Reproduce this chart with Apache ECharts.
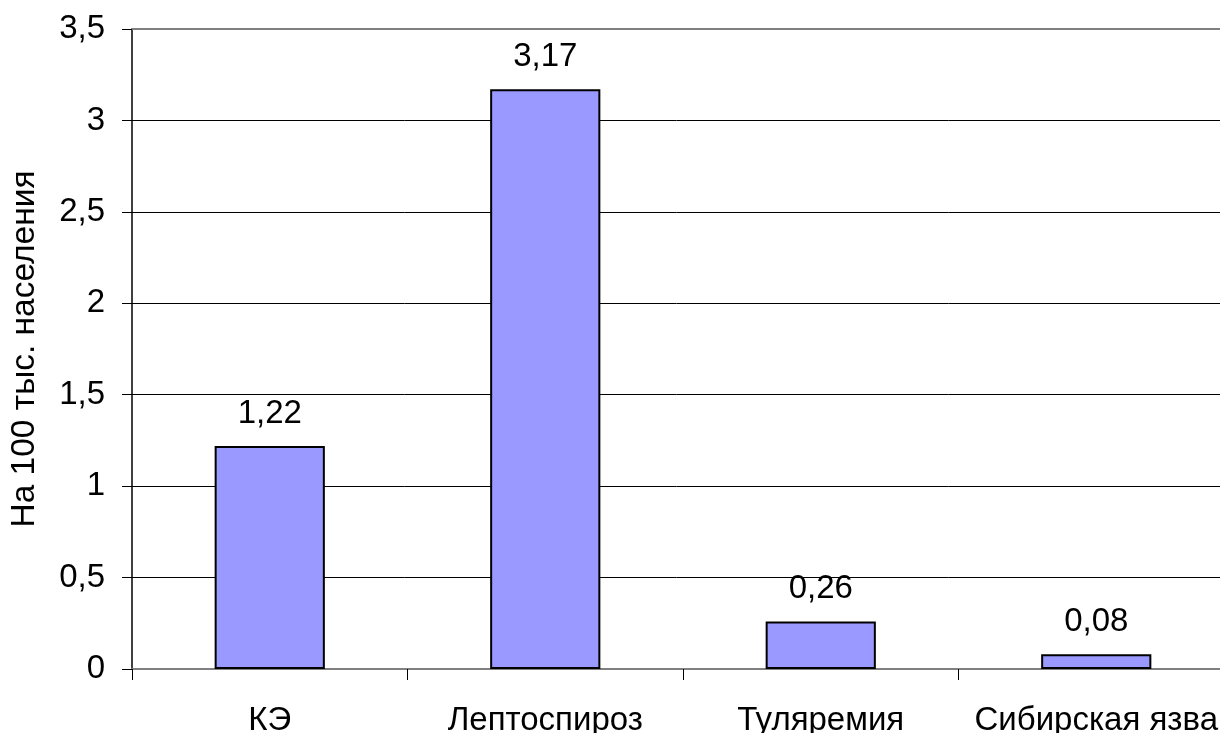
<!DOCTYPE html>
<html>
<head>
<meta charset="utf-8">
<script src="https://cdn.jsdelivr.net/npm/echarts@6/dist/echarts.min.js"></script>
<style>
  html, body { margin: 0; padding: 0; background: #fff; overflow: hidden; }
  #chart { width: 1220px; height: 733px; }
</style>
</head>
<body>
<div id="chart"></div>
<script>
// Заболеваемость природно-очаговыми инфекциями, на 100 тыс. населения
const categories = ['КЭ', 'Лептоспироз', 'Туляремия', 'Сибирская язва'];
const values = [1.22, 3.17, 0.26, 0.08];
const yTicks = [0, 0.5, 1, 1.5, 2, 2.5, 3, 3.5];
const yTitle = 'На 100 тыс. населения';

const FONT = '"Liberation Sans", Arial, sans-serif';
const comma = v => String(v).replace('.', ',');

const chart = echarts.init(document.getElementById('chart'), null, { renderer: 'canvas' });
chart.setOption({
  animation: false,
  backgroundColor: '#ffffff',
  // the plot area runs slightly past the right edge of the canvas
  grid: { left: 132, top: 29, bottom: 64, right: -14, containLabel: false, outerBoundsMode: 'none' },
  xAxis: [{
    type: 'category',
    data: categories,
    position: 'bottom',
    axisLine: { show: true, lineStyle: { color: '#808080', width: 2 } },
    axisTick: { show: true, alignWithLabel: false, length: 11, lineStyle: { color: '#000', width: 1 } },
    axisLabel: { color: '#000', fontFamily: FONT, fontSize: 33, margin: 35, interval: 0, hideOverlap: false },
    splitLine: { show: false }
  }, {
    type: 'category',
    data: categories,
    position: 'top',
    axisLine: { show: true, lineStyle: { color: '#808080', width: 2 } },
    axisTick: { show: false },
    axisLabel: { show: false }
  }],
  yAxis: {
    type: 'value',
    min: yTicks[0],
    max: yTicks[yTicks.length - 1],
    interval: 0.5,
    name: yTitle,
    nameLocation: 'middle',
    nameGap: 90,
    nameRotate: 90,
    nameTextStyle: { color: '#000', fontFamily: FONT, fontSize: 33.5 },
    axisLine: { show: true, lineStyle: { color: '#000', width: 1.5 } },
    axisTick: { show: true, inside: false, length: 10, lineStyle: { color: '#000', width: 1 } },
    axisLabel: { color: '#000', fontFamily: FONT, fontSize: 33, margin: 27, formatter: v => comma(v) },
    splitLine: { show: true, lineStyle: { color: '#000', width: 1 } }
  },
  series: [{
    type: 'bar',
    xAxisIndex: 0,
    data: values,
    barWidth: '40%',
    itemStyle: { color: '#9999FF', borderColor: '#000', borderWidth: 2 },
    label: {
      show: true,
      position: 'top',
      distance: 16,
      color: '#000',
      fontFamily: FONT,
      fontSize: 33,
      formatter: p => comma(p.value)
    }
  }]
});
</script>
</body>
</html>
